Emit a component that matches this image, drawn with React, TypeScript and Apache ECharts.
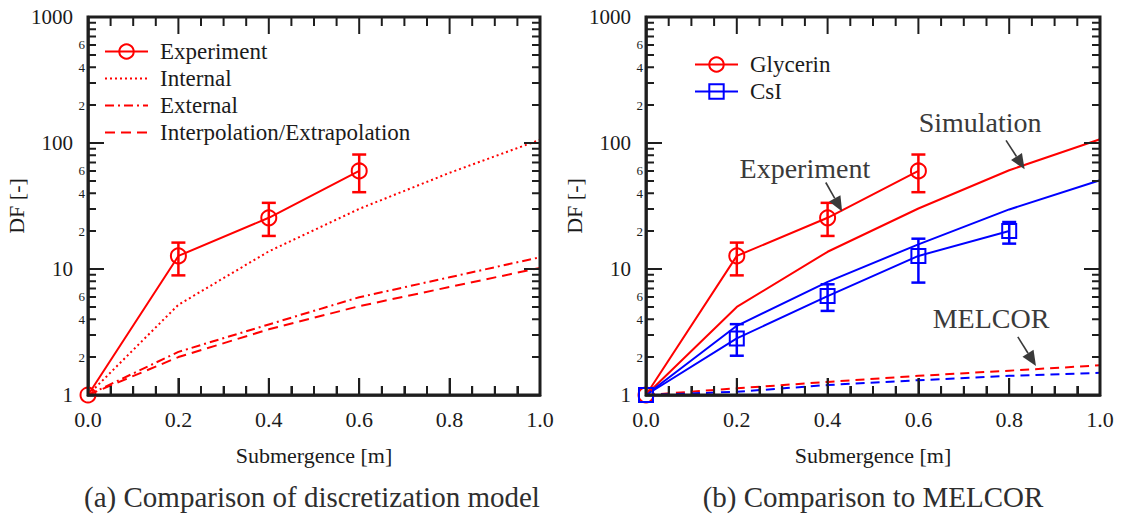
import React, { useEffect, useRef } from 'react';
import * as echarts from 'echarts';

const FONT = 'Liberation Serif';
const RED = '#ff0000';
const BLUE = '#0000ff';
const INK = '#1b1b1b';
const FRAME = '#1e1e1e';
const GRAY = '#3a3a3a';
const CLEAR = 'rgba(255,255,255,0)';

// ---------- data ----------
const submergence = [0, 0.2, 0.4, 0.6, 0.8, 1.0];

// (a) discretization model
const expX = [0, 0.2, 0.4, 0.6];
const glycerinExp = [1, 12.7, 25.5, 60];
const glycerinLow = [1, 8.9, 18.3, 40.7];
const glycerinHigh = [1, 16.2, 33.5, 81];
const internalDF = [1, 5.2, 13.8, 30, 58, 106];
const externalDF = [1, 2.2, 3.63, 5.97, 8.6, 12.4];
const interpDF = [1, 2.0, 3.32, 5.07, 7.2, 10.2];

// (b) MELCOR comparison
const csiX = [0, 0.2, 0.4, 0.6, 0.8];
const csiExp = [1, 2.81, 6.1, 12.7, 20];
const csiLow = [1, 2.05, 4.65, 7.8, 15.9];
const csiHigh = [1, 3.65, 7.56, 17.4, 23.6];
const glycerinSim = [1, 5.0, 13.7, 30.2, 60.8, 107];
const csiSim = [1, 3.54, 7.9, 15.7, 29.7, 50.6];
const glycerinMelcor = [1, 1.13, 1.27, 1.42, 1.56, 1.72];
const csiMelcor = [1, 1.06, 1.2, 1.31, 1.42, 1.5];

// annotations (data coordinates of the right panel)
const annotationTexts = ['Simulation', 'Experiment', 'MELCOR'];
const annotationAt = [[0.736, 146], [0.35, 62.8], [0.76, 4.03]];
const arrowFrom = [[0.793, 105], [0.396, 48.6], [0.819, 2.89]];
const arrowTo = [[0.834, 62], [0.432, 28.6], [0.859, 1.7]];

// frame ticks
const xMajorTicks = [0, 0.2, 0.4, 0.6, 0.8, 1.0];
const xMinorTicks = [0.05, 0.1, 0.15, 0.25, 0.3, 0.35, 0.45, 0.5, 0.55, 0.65, 0.7, 0.75, 0.85, 0.9, 0.95];
const yMajorTicks = [1, 10, 100, 1000];
const yMinorTicks = [2, 3, 4, 5, 6, 7, 8, 9, 20, 30, 40, 50, 60, 70, 80, 90, 200, 300, 400, 500, 600, 700, 800, 900];
const yMinorLabelValues = [2, 4, 6, 20, 40, 60, 200, 400, 600];
const yMinorLabelTexts = ['2', '4', '6', '2', '4', '6', '2', '4', '6'];

const captions = ['(a) Comparison of discretization model', '(b) Comparison to MELCOR'];

// ---------- layout ----------
const GRID_TOP = 17;
const GRID_H = 378;
const PANEL_LEFT = [88, 646];
const PANEL_W = [452, 454];
const PX_PER_DECADE = GRID_H / 3;

// ---------- helpers ----------
const pairs = (xs: number[], ys: number[]) => xs.map((x, i) => [x, ys[i]]);

function xAxisDef(gridIndex: number) {
  return {
    type: 'value',
    gridIndex,
    min: 0,
    max: 1,
    interval: 0.2,
    axisLine: { show: true, onZero: false, lineStyle: { color: FRAME, width: 2.5 } },
    axisTick: { show: true, inside: true, length: 17, lineStyle: { color: FRAME, width: 2 } },
    minorTick: { show: true, splitNumber: 4, length: 9, lineStyle: { color: FRAME, width: 2 } },
    splitLine: { show: false },
    minorSplitLine: { show: false },
    axisLabel: {
      show: true,
      margin: 13,
      fontSize: 22,
      fontFamily: FONT,
      color: INK,
      formatter: (v: number) => v.toFixed(1),
    },
    name: 'Submergence [m]',
    nameLocation: 'middle',
    nameGap: 49,
    nameTextStyle: { fontSize: 22, fontFamily: FONT, color: INK },
  };
}

function yAxisDef(gridIndex: number) {
  return {
    type: 'log',
    logBase: 10,
    gridIndex,
    min: 1,
    max: 1000,
    axisLine: { show: true, onZero: false, lineStyle: { color: FRAME, width: 2.5 } },
    axisTick: { show: true, inside: true, length: 16, lineStyle: { color: FRAME, width: 2 } },
    minorTick: { show: false },
    splitLine: { show: false },
    axisLabel: {
      show: true,
      margin: 15,
      fontSize: 21,
      fontFamily: FONT,
      color: INK,
      formatter: (v: number) => String(Math.round(v)),
    },
    name: 'DF [-]',
    nameLocation: 'middle',
    nameRotate: 90,
    nameGap: 54,
    nameTextStyle: { fontSize: 22, fontFamily: FONT, color: INK },
  };
}

// tick marks as short segments of a line series (broken by empty points)
function tickLineSeries(axisIndex: number) {
  const w = PANEL_W[axisIndex];
  const pts: any[] = [];
  const seg = (a: number[], b: number[]) => {
    pts.push(a, b, [b[0], '-']);
  };
  const yTick = (v: number, len: number) => {
    seg([0, v], [len / w, v]);
    seg([1, v], [1 - len / w, v]);
  };
  const xTick = (x: number, len: number) => {
    const f = Math.pow(10, len / PX_PER_DECADE);
    seg([x, 1], [x, f]);
    seg([x, 1000], [x, 1000 / f]);
  };
  yMajorTicks.forEach((v) => yTick(v, 16));
  yMinorTicks.forEach((v) => yTick(v, 8));
  xMajorTicks.forEach((x) => xTick(x, 17));
  xMinorTicks.forEach((x) => xTick(x, 9));
  return {
    type: 'line',
    name: 'ticks' + axisIndex,
    xAxisIndex: axisIndex,
    yAxisIndex: axisIndex,
    data: pts,
    symbol: 'none',
    showSymbol: false,
    connectNulls: false,
    clip: false,
    silent: true,
    z: 9,
    lineStyle: { color: FRAME, width: 2 },
    itemStyle: { color: FRAME },
  };
}

function frameSeries(axisIndex: number) {
  return {
    type: 'custom',
    xAxisIndex: axisIndex,
    yAxisIndex: axisIndex,
    silent: true,
    z: 20,
    data: [[0, 1, 1, 1000]],
    encode: { x: [0, 2], y: [1, 3] },
    renderItem: (params: any, api: any) => {
      const bl = api.coord([api.value(0), api.value(1)]);
      const tr = api.coord([api.value(2), api.value(3)]);
      return {
        type: 'rect',
        shape: { x: bl[0], y: tr[1], width: tr[0] - bl[0], height: bl[1] - tr[1] },
        style: { stroke: FRAME, lineWidth: 3, fill: 'none' },
      };
    },
  };
}

function minorLabelSeries(axisIndex: number) {
  return {
    type: 'custom',
    xAxisIndex: axisIndex,
    yAxisIndex: axisIndex,
    silent: true,
    z: 12,
    data: yMinorLabelValues.map((v, i) => [0.5, v, i]),
    encode: { x: 0, y: 1 },
    renderItem: (params: any, api: any) => {
      const i = params.dataIndex;
      const l = api.coord([0, yMinorLabelValues[i]]);
      return {
        type: 'text',
        x: l[0] - 3,
        y: l[1],
        style: {
          text: yMinorLabelTexts[i],
          fontSize: 13,
          fontFamily: FONT,
          fill: INK,
          align: 'right',
          verticalAlign: 'middle',
        },
      };
    },
  };
}

function errorBarSeries(axisIndex: number, xs: number[], lows: number[], highs: number[], color: string) {
  return {
    type: 'custom',
    xAxisIndex: axisIndex,
    yAxisIndex: axisIndex,
    silent: true,
    z: 4,
    data: xs.map((x, i) => [x, lows[i], highs[i]]).filter((d) => d[2] > d[1]),
    encode: { x: 0, y: [1, 2] },
    renderItem: (params: any, api: any) => {
      const x = api.value(0);
      const lo = api.coord([x, api.value(1)]);
      const hi = api.coord([x, api.value(2)]);
      const w = 7;
      return {
        type: 'group',
        children: [
          { type: 'line', shape: { x1: lo[0], y1: lo[1], x2: hi[0], y2: hi[1] }, style: { stroke: color, lineWidth: 2.5 } },
          { type: 'line', shape: { x1: lo[0] - w, y1: lo[1], x2: lo[0] + w, y2: lo[1] }, style: { stroke: color, lineWidth: 2.5 } },
          { type: 'line', shape: { x1: hi[0] - w, y1: hi[1], x2: hi[0] + w, y2: hi[1] }, style: { stroke: color, lineWidth: 2.5 } },
        ],
      };
    },
  };
}

function annotationSeries(axisIndex: number) {
  return {
    type: 'custom',
    xAxisIndex: axisIndex,
    yAxisIndex: axisIndex,
    silent: true,
    z: 12,
    data: annotationTexts.map((_, i) => [
      annotationAt[i][0], annotationAt[i][1],
      arrowFrom[i][0], arrowFrom[i][1],
      arrowTo[i][0], arrowTo[i][1],
    ]),
    encode: { x: [0, 2, 4], y: [1, 3, 5] },
    renderItem: (params: any, api: any) => {
      const i = params.dataIndex;
      const t = api.coord([api.value(0), api.value(1)]);
      const a = api.coord([api.value(2), api.value(3)]);
      const b = api.coord([api.value(4), api.value(5)]);
      const dx = b[0] - a[0];
      const dy = b[1] - a[1];
      const d = Math.hypot(dx, dy) || 1;
      const ux = dx / d;
      const uy = dy / d;
      const head = 15;
      const half = 6.5;
      const base = [b[0] - ux * head, b[1] - uy * head];
      const p1 = [base[0] - uy * half, base[1] + ux * half];
      const p2 = [base[0] + uy * half, base[1] - ux * half];
      return {
        type: 'group',
        children: [
          {
            type: 'text',
            x: t[0],
            y: t[1],
            style: {
              text: annotationTexts[i],
              fontSize: 28,
              fontFamily: FONT,
              fill: GRAY,
              align: 'center',
              verticalAlign: 'middle',
            },
          },
          { type: 'line', shape: { x1: a[0], y1: a[1], x2: base[0], y2: base[1] }, style: { stroke: GRAY, lineWidth: 1.6 } },
          { type: 'polygon', shape: { points: [b, p1, p2] }, style: { fill: GRAY } },
        ],
      };
    },
  };
}

function lineSeries(name: string, axisIndex: number, xs: number[], ys: number[], color: string, dash: any, symbol: string, size: number) {
  return {
    type: 'line',
    name,
    xAxisIndex: axisIndex,
    yAxisIndex: axisIndex,
    data: pairs(xs, ys),
    symbol,
    symbolSize: size,
    showSymbol: symbol !== 'none',
    smooth: false,
    z: 3,
    lineStyle: { color, width: 2, type: dash },
    itemStyle: { color: CLEAR, borderColor: color, borderWidth: 2 },
  };
}

function decorations(axisIndex: number) {
  return [tickLineSeries(axisIndex), frameSeries(axisIndex), minorLabelSeries(axisIndex)];
}

const legendText = { fontSize: 23, fontFamily: FONT, color: INK, lineHeight: 23, padding: [0, 0, 0, 7] };

export default function App() {
  const ref = useRef<HTMLDivElement>(null);

  useEffect(() => {
    if (!ref.current) return;
    const chart = echarts.init(ref.current, null, { renderer: 'svg' });
    const option: any = {
      animation: false,
      grid: [
        { left: PANEL_LEFT[0], top: GRID_TOP, width: PANEL_W[0], height: GRID_H },
        { left: PANEL_LEFT[1], top: GRID_TOP, width: PANEL_W[1], height: GRID_H },
      ],
      xAxis: [xAxisDef(0), xAxisDef(1)],
      yAxis: [yAxisDef(0), yAxisDef(1)],
      legend: [
        {
          orient: 'vertical',
          left: 104,
          top: 40,
          padding: 0,
          itemGap: 4,
          itemWidth: 43,
          itemHeight: 18,
          selectedMode: false,
          textStyle: legendText,
          data: [
            { name: 'Experiment' },
            { name: 'Internal', itemStyle: { opacity: 0 } },
            { name: 'External', itemStyle: { opacity: 0 } },
            { name: 'Interpolation/Extrapolation', itemStyle: { opacity: 0 } },
          ],
        },
        {
          orient: 'vertical',
          left: 694,
          top: 53,
          padding: 0,
          itemGap: 4,
          itemWidth: 43,
          itemHeight: 18,
          selectedMode: false,
          textStyle: legendText,
          data: [{ name: 'Glycerin' }, { name: 'CsI' }],
        },
      ],
      graphic: captions.map((c, i) => ({
        type: 'text',
        x: i === 0 ? 312 : 873,
        y: 497,
        style: {
          text: c,
          fontSize: 29,
          fontFamily: FONT,
          fill: '#2e2e2e',
          align: 'center',
          verticalAlign: 'middle',
        },
      })),
      series: [
        // panel (a)
        lineSeries('Internal', 0, submergence, internalDF, RED, [2, 3], 'none', 0),
        lineSeries('External', 0, submergence, externalDF, RED, [9, 4, 2, 4], 'none', 0),
        lineSeries('Interpolation/Extrapolation', 0, submergence, interpDF, RED, [10, 6], 'none', 0),
        lineSeries('Experiment', 0, expX, glycerinExp, RED, 'solid', 'circle', 15),
        errorBarSeries(0, expX, glycerinLow, glycerinHigh, RED),
        ...decorations(0),
        // panel (b)
        lineSeries('Glycerin simulation', 1, submergence, glycerinSim, RED, 'solid', 'none', 0),
        lineSeries('CsI simulation', 1, submergence, csiSim, BLUE, 'solid', 'none', 0),
        lineSeries('Glycerin MELCOR', 1, submergence, glycerinMelcor, RED, [9, 6], 'none', 0),
        lineSeries('CsI MELCOR', 1, submergence, csiMelcor, BLUE, [9, 6], 'none', 0),
        lineSeries('Glycerin', 1, expX, glycerinExp, RED, 'solid', 'circle', 15),
        lineSeries('CsI', 1, csiX, csiExp, BLUE, 'solid', 'rect', 14),
        errorBarSeries(1, expX, glycerinLow, glycerinHigh, RED),
        errorBarSeries(1, csiX, csiLow, csiHigh, BLUE),
        ...decorations(1),
        annotationSeries(1),
      ],
    };
    chart.setOption(option);
    return () => chart.dispose();
  }, []);

  return (
    <div
      ref={ref}
      style={{ position: 'fixed', left: 0, top: 0, width: 1123, height: 515, background: '#fff' }}
    />
  );
}
